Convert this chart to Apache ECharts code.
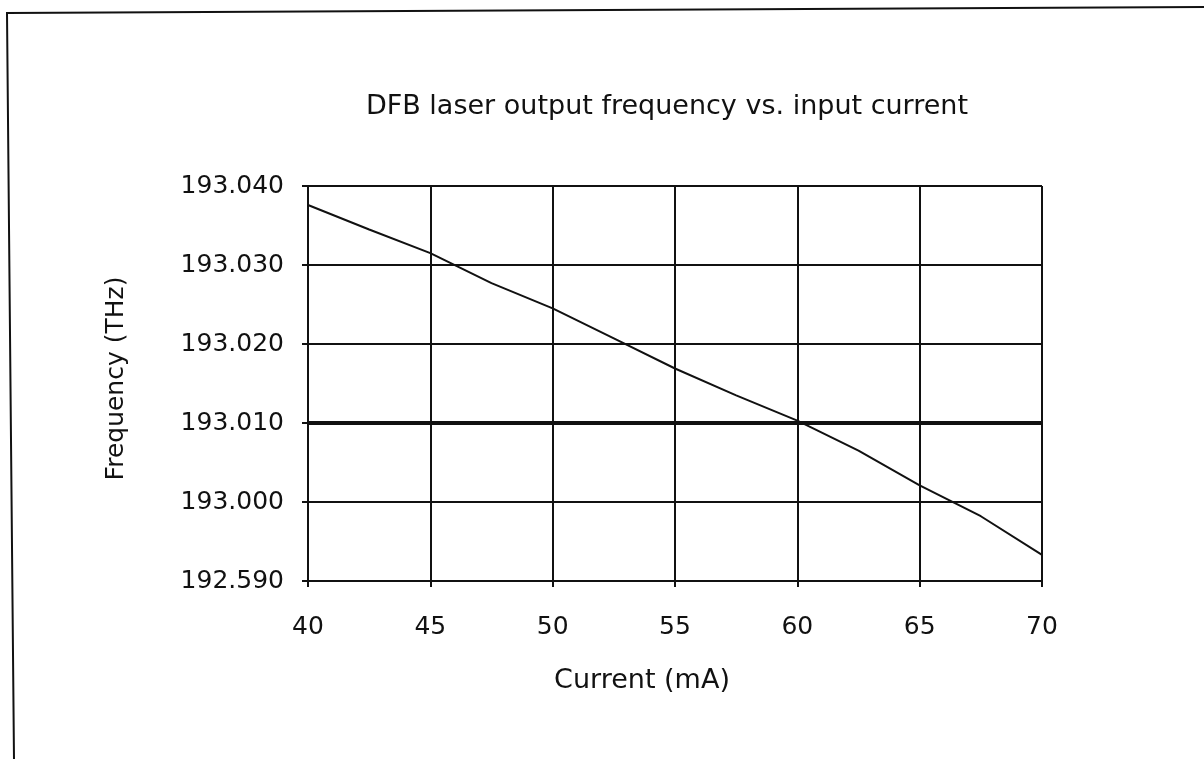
<!DOCTYPE html>
<html style="height: 100%">
<head>
<meta charset="utf-8">
</head>
<body style="height: 100%; margin: 0; background: #fff">
	<div id="container" style="width: 1204px; height: 759px"></div>
	<script type="text/javascript"
		src="https://cdn.jsdelivr.net/npm/echarts/dist/echarts.min.js"></script>
	<script type="text/javascript">
		var current = [ 40, 42.5, 45, 47.5, 50, 52.5, 55, 57.5, 60, 62.5, 65, 67.5, 70 ];
		var frequency = [ 193.0376, 193.0345, 193.0315, 193.0277, 193.0245,
				193.0207, 193.0169, 193.0135, 193.0103, 193.0065, 193.0021,
				192.9982, 192.9933 ];
		// y tick labels as printed (the bottom one carries the original typo)
		var yTickLabels = [ '192.590', '193.000', '193.010', '193.020',
				'193.030', '193.040' ];
		var xTicks = [ 40, 45, 50, 55, 60, 65, 70 ];
		var refLevel = 193.010;

		var dom = document.getElementById("container");
		var myChart = echarts.init(dom);
		var font = 'DejaVu Sans, sans-serif';

		var points = [];
		for (var i = 0; i < current.length; i++) {
			points.push([ current[i], frequency[i] ]);
		}

		var option = {
			backgroundColor : '#fff',
			animation : false,
			title : {
				text : 'DFB laser output frequency vs. input current',
				left : 662,
				top : 88,
				textAlign : 'center',
				textStyle : {
					fontFamily : font,
					fontWeight : 'normal',
					fontSize : 27,
					color : '#111'
				}
			},
			graphic : [ {
				type : 'polyline',
				shape : {
					points : [ [ 1204, 7 ], [ 7, 13 ], [ 14, 759 ] ]
				},
				style : {
					stroke : '#111',
					lineWidth : 2,
					fill : null
				}
			} ],
			grid : {
				left : 308,
				top : 186,
				width : 734,
				height : 395
			},
			xAxis : {
				type : 'value',
				min : 40,
				max : 70,
				interval : 5,
				name : 'Current (mA)',
				nameLocation : 'middle',
				nameGap : 86,
				nameTextStyle : {
					fontFamily : font,
					fontSize : 27,
					color : '#111',
					padding : [ 0, 66, 0, 0 ]
				},
				axisLine : {
					lineStyle : {
						color : '#111',
						width : 2
					}
				},
				axisTick : {
					show : true,
					length : 6,
					lineStyle : {
						color : '#111',
						width : 2
					}
				},
				axisLabel : {
					margin : 34,
					fontFamily : font,
					fontSize : 25,
					color : '#111',
					formatter : function(v) {
						return xTicks.indexOf(v) >= 0 ? String(v) : '';
					}
				},
				splitLine : {
					show : true,
					lineStyle : {
						color : '#111',
						width : 2
					}
				}
			},
			yAxis : {
				type : 'value',
				min : 192.99,
				max : 193.04,
				interval : 0.01,
				name : 'Frequency (THz)',
				nameLocation : 'middle',
				nameGap : 179,
				nameTextStyle : {
					fontFamily : font,
					fontSize : 25,
					color : '#111',
					padding : [ 0, 0, 0, 10 ]
				},
				axisLine : {
					show : true,
					lineStyle : {
						color : '#111',
						width : 2
					}
				},
				axisTick : {
					show : true,
					length : 6,
					lineStyle : {
						color : '#111',
						width : 2
					}
				},
				axisLabel : {
					margin : 24,
					fontFamily : font,
					fontSize : 25,
					color : '#111',
					formatter : function(v) {
						var k = Math.round((v - 192.99) / 0.01);
						return yTickLabels[k] || '';
					}
				},
				splitLine : {
					show : true,
					lineStyle : {
						color : '#111',
						width : 2
					}
				}
			},
			series : [ {
				name : 'frequency',
				type : 'line',
				data : points,
				showSymbol : false,
				symbol : 'none',
				lineStyle : {
					color : '#111',
					width : 2
				},
				markLine : {
					silent : true,
					symbol : 'none',
					label : {
						show : false
					},
					lineStyle : {
						color : '#111',
						width : 4,
						type : 'solid'
					},
					data : [ {
						yAxis : refLevel
					} ]
				}
			} ]
		};
		myChart.setOption(option);
	</script>
</body>
</html>
